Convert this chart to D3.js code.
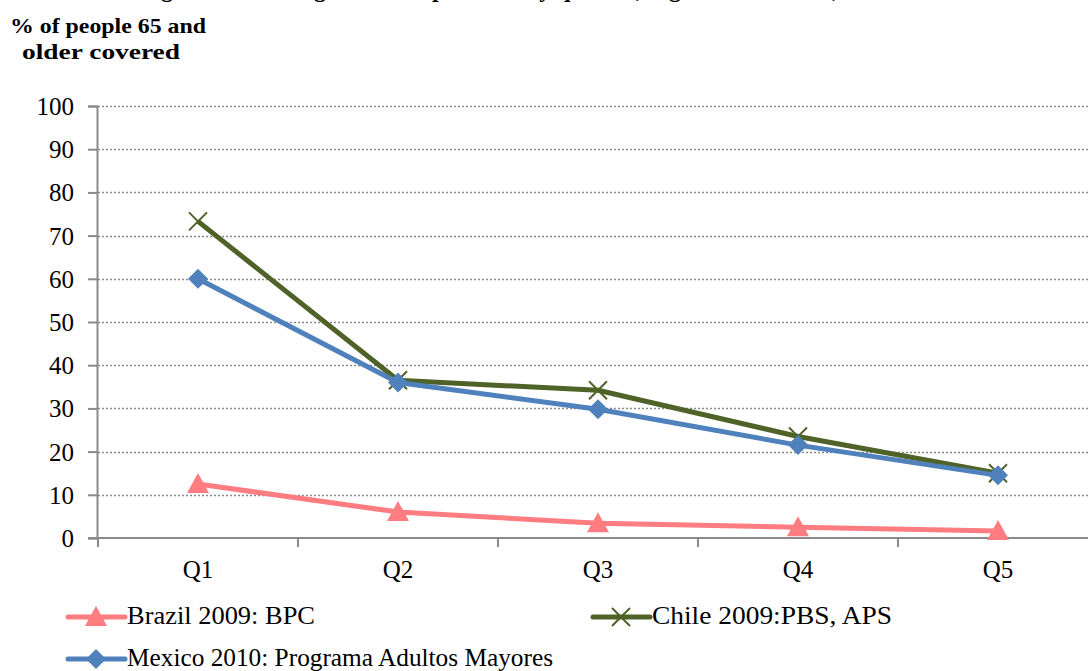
<!DOCTYPE html>
<html>
<head>
<meta charset="utf-8">
<script src="https://cdn.jsdelivr.net/npm/d3@7"></script>
</head>
<body style="margin:0; background:#fff">
<script>
//keep all script in a local scope
(function(){

    //chart data
    var quintiles = ["Q1", "Q2", "Q3", "Q4", "Q5"];
    var brazil = [12.5, 6.0, 3.4, 2.5, 1.6];
    var chile = [73.3, 36.5, 34.2, 23.5, 15.0];
    var mexico = [60.0, 36.0, 29.8, 21.5, 14.5];
    var yTicks = [0, 10, 20, 30, 40, 50, 60, 70, 80, 90, 100];
    var seriesNames = ["Brazil 2009: BPC", "Chile  2009:PBS, APS", "Mexico 2010: Programa Adultos Mayores"];

    //frame dimensions
    var width = 1088, height = 671;
    var plotLeft = 98, plotRight = 1098, plotTop = 106, plotBottom = 538;
    var fontName = "'Liberation Serif', monospace";

    var svg = d3.select("body")
        .append("svg")
        .attr("width", width)
        .attr("height", height)
        .attr("font-family", fontName);

    //scales
    var xScale = d3.scaleBand().domain(quintiles).range([plotLeft, plotRight]);
    var yScale = d3.scaleLinear().domain([0, 100]).range([plotBottom, plotTop]);

    //title, mostly cut off at the top of the picture
    svg.append("text")
        .attr("x", 544)
        .attr("y", -3)
        .attr("text-anchor", "middle")
        .attr("font-weight", "bold")
        .attr("font-size", 24)
        .attr("font-family", fontName)
        .text("Figure 3: Coverage of social pensions by quintile, regional countries, 2009-2010");

    //y axis title
    var yTitle = svg.append("g")
        .attr("font-weight", "bold")
        .attr("font-size", 21)
        .attr("font-family", fontName);
    yTitle.append("text").attr("x", 10).attr("y", 33)
        .attr("textLength", 196).attr("lengthAdjust", "spacingAndGlyphs")
        .text("% of people 65 and");
    yTitle.append("text").attr("x", 22).attr("y", 59)
        .attr("textLength", 158).attr("lengthAdjust", "spacingAndGlyphs")
        .text("older  covered");

    //dotted gridlines
    svg.append("g")
        .selectAll("line")
        .data(yTicks.filter(function(d){ return d > 0; }))
        .enter()
        .append("line")
        .attr("x1", plotLeft)
        .attr("x2", width)
        .attr("y1", function(d){ return Math.round(yScale(d)) + 0.5; })
        .attr("y2", function(d){ return Math.round(yScale(d)) + 0.5; })
        .attr("stroke", "#8a8a8a")
        .attr("stroke-width", 1.3)
        .attr("stroke-dasharray", "2,2");

    //y axis
    var yAxis = svg.append("g")
        .attr("transform", "translate(" + (plotLeft - 1) + ",0)")
        .call(d3.axisLeft(yScale).tickValues(yTicks).tickSize(9).tickPadding(14));
    yAxis.attr("font-family", fontName).attr("font-size", 25);
    yAxis.select(".domain").attr("stroke", "#8a8a8a").attr("stroke-width", 2);
    yAxis.selectAll(".tick line").attr("stroke", "#8a8a8a").attr("stroke-width", 2);
    yAxis.selectAll(".tick text")
        .attr("font-size", 25)
        .attr("dy", "0.34em")
        .attr("fill", "#000")
        .attr("font-family", fontName);

    //x axis with ticks between categories
    var xLine = svg.append("g");
    xLine.append("line")
        .attr("x1", plotLeft - 9)
        .attr("x2", width)
        .attr("y1", plotBottom)
        .attr("y2", plotBottom)
        .attr("stroke", "#8a8a8a")
        .attr("stroke-width", 2);
    xLine.selectAll(".xtick")
        .data(quintiles)
        .enter()
        .append("line")
        .attr("class", "xtick")
        .attr("x1", function(d){ return xScale(d); })
        .attr("x2", function(d){ return xScale(d); })
        .attr("y1", plotBottom)
        .attr("y2", plotBottom + 9)
        .attr("stroke", "#8a8a8a")
        .attr("stroke-width", 2);
    xLine.selectAll(".xlabel")
        .data(quintiles)
        .enter()
        .append("text")
        .attr("class", "xlabel")
        .attr("x", function(d){ return xScale(d) + xScale.bandwidth() / 2; })
        .attr("y", 578)
        .attr("text-anchor", "middle")
        .attr("font-size", 25)
        .attr("font-family", fontName)
        .text(function(d){ return d; });

    //series definitions
    var series = [
        {name: seriesNames[0], values: brazil, color: "#ff7c80", marker: "triangle", textW: 188},
        {name: seriesNames[1], values: chile, color: "#4f6228", marker: "cross", textW: 240},
        {name: seriesNames[2], values: mexico, color: "#4f81bd", marker: "diamond", textW: 426}
    ];

    var line = d3.line()
        .x(function(d, i){ return xScale(quintiles[i]) + xScale.bandwidth() / 2; })
        .y(function(d){ return yScale(d); });

    //draw a marker shape at a point
    function drawMarker(g, type, color, x, y){
        if (type === "triangle"){
            g.append("path")
                .attr("d", "M" + x + "," + (y - 11) + "L" + (x + 11) + "," + (y + 9) + "L" + (x - 11) + "," + (y + 9) + "Z")
                .attr("fill", color);
        } else if (type === "diamond"){
            g.append("path")
                .attr("d", "M" + x + "," + (y - 10) + "L" + (x + 10) + "," + y + "L" + x + "," + (y + 10) + "L" + (x - 10) + "," + y + "Z")
                .attr("fill", color);
        } else {
            g.append("path")
                .attr("d", "M" + (x - 9) + "," + (y - 9) + "L" + (x + 9) + "," + (y + 9) + "M" + (x + 9) + "," + (y - 9) + "L" + (x - 9) + "," + (y + 9))
                .attr("stroke", color)
                .attr("stroke-width", 2)
                .attr("fill", "none");
        }
    }

    //lines and markers
    series.forEach(function(s){
        var g = svg.append("g");
        g.append("path")
            .datum(s.values)
            .attr("d", line)
            .attr("fill", "none")
            .attr("stroke", s.color)
            .attr("stroke-width", 5)
            .attr("stroke-linejoin", "round");
        s.values.forEach(function(v, i){
            drawMarker(g, s.marker, s.color, xScale(quintiles[i]) + xScale.bandwidth() / 2, yScale(v));
        });
    });

    //legend
    var legendPos = [
        {x: 68, y: 617},
        {x: 593, y: 617},
        {x: 68, y: 659}
    ];
    series.forEach(function(s, i){
        var p = legendPos[i];
        var g = svg.append("g");
        g.append("line")
            .attr("x1", p.x)
            .attr("x2", p.x + 57)
            .attr("y1", p.y)
            .attr("y2", p.y)
            .attr("stroke", s.color)
            .attr("stroke-width", 5)
            .attr("stroke-linecap", "round");
        drawMarker(g, s.marker, s.color, p.x + 28, p.y);
        g.append("text")
            .attr("x", p.x + 59)
            .attr("y", p.y + 7)
            .attr("font-size", 26)
            .attr("font-family", fontName)
            .attr("textLength", s.textW)
            .attr("lengthAdjust", "spacingAndGlyphs")
            .text(s.name);
    });

})();
</script>
</body>
</html>
